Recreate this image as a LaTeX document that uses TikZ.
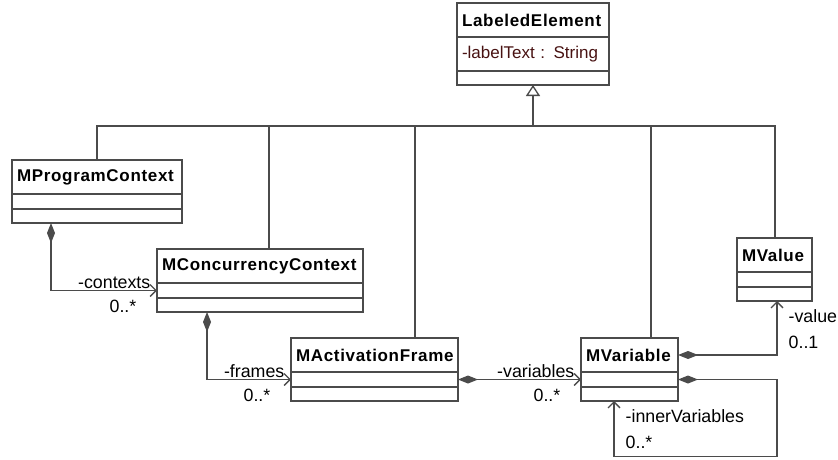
\documentclass[tikz,border=0pt]{standalone}
\usepackage{fontspec}
\setmainfont{Liberation Sans}
\newfontfamily\headfont[LetterSpace=4]{Liberation Sans}
\usepackage{xcolor}
\usepackage{tikz}
\usetikzlibrary{positioning, arrows.meta}
\definecolor{linec}{RGB}{75,75,75}
\definecolor{attrc}{RGB}{72,18,18}
\tikzstyle{conn} = [draw=linec, line width=1.3pt]
\tikzstyle{comp} = [conn, {Diamond[length=20pt,width=8pt]}-{Straight Barb[length=6pt,width=12pt]}]
\tikzstyle{gen}  = [conn, -{Triangle[open,length=11pt,width=14pt]}]

\begin{document}
\begin{tikzpicture}[
    x=1pt, y=-1pt,
    every node/.style={font=\fontsize{17}{20}\selectfont},
    head/.style={draw=linec, line width=1.3pt, anchor=north west, inner xsep=5pt,
      inner ysep=0pt, outer sep=0pt, minimum height=34pt, align=left, text width=#1,
      font=\headfont\bfseries\fontsize{17}{20}\selectfont},
    part/.style={draw=linec, line width=1.3pt, inner xsep=5pt, inner ysep=0pt,
      outer sep=0pt, minimum height=15pt, align=left, text width=#1},
    role/.style={pos=1, above left=1pt and 6pt, inner sep=0pt, font=\fontsize{17.8}{20}\selectfont},
    mult/.style={pos=1, below left=9pt and 20pt, inner sep=0pt, font=\fontsize{17.8}{20}\selectfont},
    vrole/.style={pos=1, below right=8pt and 11pt, inner sep=0pt, font=\fontsize{17.8}{20}\selectfont},
    vmult/.style={pos=1, below right=34pt and 11pt, inner sep=0pt, font=\fontsize{17.8}{20}\selectfont},
  ]
  \useasboundingbox (0,0) rectangle (838,460);

  % classes
  \node[head=142pt] (le) at (457,3) {LabeledElement};
  \node[part=142pt, minimum height=34pt, below=0pt of le, text=attrc] (le-a) {-labelText : String};
  \node[part=142pt, minimum height=14pt, below=0pt of le-a] (le-o) {};

  \node[head=160pt] (pc) at (12,160) {MProgramContext};
  \node[part=160pt, below=0pt of pc] (pc-a) {};
  \node[part=160pt, minimum height=14pt, below=0pt of pc-a] (pc-o) {};

  \node[head=196pt] (cc) at (157,249) {MConcurrencyContext};
  \node[part=196pt, below=0pt of cc] (cc-a) {};
  \node[part=196pt, minimum height=14pt, below=0pt of cc-a] (cc-o) {};

  \node[head=157pt] (af) at (291,338) {MActivationFrame};
  \node[part=157pt, below=0pt of af] (af-a) {};
  \node[part=157pt, minimum height=14pt, below=0pt of af-a] (af-o) {};

  \node[head=87pt] (mv) at (581,338) {MVariable};
  \node[part=87pt, below=0pt of mv] (mv-a) {};
  \node[part=87pt, minimum height=14pt, below=0pt of mv-a] (mv-o) {};

  \node[head=65pt] (val) at (737,238) {MValue};
  \node[part=65pt, below=0pt of val] (val-a) {};
  \node[part=65pt, minimum height=14pt, below=0pt of val-a] (val-o) {};

  % generalization
  \coordinate (bus) at (le-o.south |- 0,126);
  \draw[gen] (bus) -- (le-o.south);
  \draw[conn] (pc.north) |- (bus);
  \draw[conn] ([xshift=112pt]cc.north west) |- (bus);
  \draw[conn] ([xshift=124pt]af.north west) |- (bus);
  \draw[conn] ([xshift=70pt]mv.north west) |- (bus);
  \draw[conn] ([xshift=38pt]val.north west) |- (bus);

  % compositions
  \draw[comp] ([xshift=39pt]pc-o.south west) |- (cc-a.west)
    node[role] {-contexts} node[mult] {0..*};
  \draw[comp] ([xshift=50pt]cc-o.south west) |- (af-a.west)
    node[role] {-frames} node[mult] {0..*};
  \draw[comp] (af-a.east) -- (mv-a.west)
    node[role] {-variables} node[mult] {0..*};
  \draw[comp] (mv.east) -| ([xshift=40pt]val-o.south west)
    node[vrole] {-value} node[vmult] {0..1};
  \draw[comp] (mv-a.east) -- ++(99,0) -- ++(0,77) -| ([xshift=33pt]mv-o.south west)
    node[vrole] {-innerVariables} node[vmult] {0..*};
\end{tikzpicture}
\end{document}
